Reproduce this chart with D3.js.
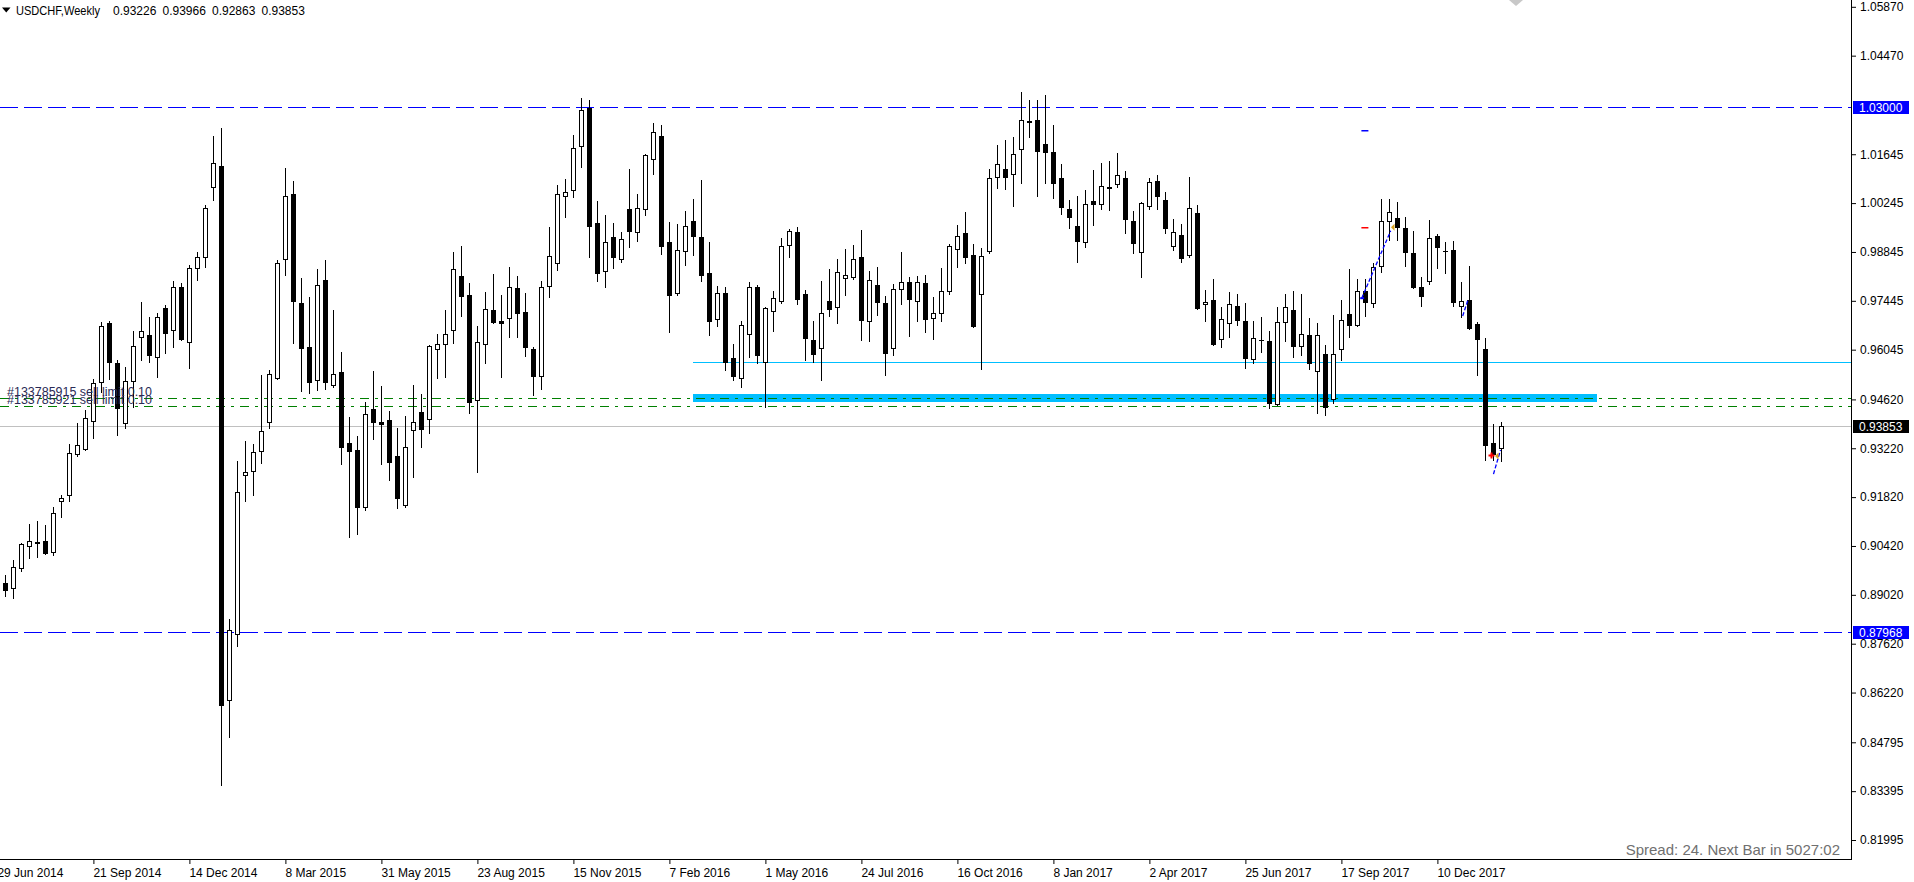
<!DOCTYPE html>
<html><head><meta charset="utf-8">
<script src="https://cdn.jsdelivr.net/npm/d3@7"></script>
<style>
body{margin:0;background:#fff;overflow:hidden}
svg{display:block}
text{font-family:"Liberation Sans",Arial,sans-serif}
</style>
</head><body>
<svg id="c" width="1914" height="882"></svg>
<script>
// ---------------- DATA ----------------
const symbolTitle = "USDCHF,Weekly";
const titleValues = ["0.93226", "0.93966", "0.92863", "0.93853"];
const firstBarDate = "2014-06-29";

const opens = [
0.8905,0.8935,0.8923,0.8978,0.9042,0.9051,0.9055,0.9026,0.9171,0.9188,
0.9306,0.9319,0.9400,0.9513,0.9680,0.9566,0.9395,0.9515,0.9640,0.9647,
0.9583,0.9723,0.9661,0.9783,0.9626,0.9838,0.9869,1.0072,1.0131,0.8602,
0.8791,0.9244,0.9257,0.9314,0.9397,0.9523,0.9865,1.0051,0.9738,0.9613,
0.9518,0.9804,0.9504,0.9540,0.9336,0.9317,0.9153,0.9435,0.9397,0.9403,
0.9300,0.9158,0.9373,0.9427,0.9405,0.9606,0.9620,0.9661,0.9816,0.9761,
0.9461,0.9620,0.9718,0.9687,0.9695,0.9781,0.9712,0.9607,0.9530,0.9788,
0.9852,1.0045,1.0062,1.0189,1.0297,0.9967,0.9831,0.9927,0.9864,1.0007,
0.9943,1.0007,1.0150,1.0217,0.9912,0.9766,0.9888,0.9973,0.9927,0.9823,
0.9692,0.9766,0.9580,0.9523,0.9649,0.9785,0.9570,0.9714,0.9745,0.9905,
0.9941,0.9764,0.9632,0.9609,0.9744,0.9728,0.9811,0.9814,0.9869,0.9688,
0.9790,0.9738,0.9609,0.9778,0.9799,0.9745,0.9796,0.9695,0.9711,0.9774,
0.9894,0.9938,0.9876,0.9763,0.9886,1.0099,1.0121,1.0107,1.0179,1.0259,
1.0263,1.0194,1.0171,1.0096,1.0008,0.9959,0.9914,1.0031,1.0021,1.0071,
1.0079,1.0096,0.9973,0.9884,1.0017,1.0088,1.0034,0.9902,0.9933,0.9876,
0.9995,0.9735,0.9747,0.9634,0.9680,0.9730,0.9687,0.9578,0.9633,0.9630,
0.9448,0.9685,0.9718,0.9616,0.9647,0.9542,0.9592,0.9462,0.9606,0.9707,
0.9675,0.9773,0.9738,0.9845,0.9972,0.9981,0.9952,0.9881,0.9783,0.9800,
0.9929,0.9888,0.9890,0.9731,0.9747,0.9678,0.9607,0.9337,0.93226];

const highs = [
0.8960,0.8959,0.9002,0.9050,0.9105,0.9114,0.9102,0.9153,0.9188,0.9334,
0.9394,0.9432,0.9520,0.9685,0.9688,0.9575,0.9556,0.9659,0.9742,0.9699,
0.9709,0.9733,0.9800,0.9795,0.9847,0.9884,1.0019,1.0217,1.0239,0.8833,
0.9286,0.9343,0.9334,0.9532,0.9547,0.9862,1.0124,1.0089,0.9809,0.9755,
0.9835,0.9862,0.9718,0.9597,0.9411,0.9357,0.9454,0.9544,0.9501,0.9429,
0.9381,0.9415,0.9504,0.9477,0.9618,0.9650,0.9718,0.9884,0.9902,0.9795,
0.9671,0.9771,0.9822,0.9761,0.9841,0.9816,0.9766,0.9613,0.9800,0.9957,
1.0077,1.0094,1.0220,1.0325,1.0320,1.0031,0.9991,0.9967,0.9943,1.0121,
1.0050,1.0165,1.0255,1.0249,0.9970,0.9966,1.0002,1.0036,1.0091,0.9912,
0.9787,0.9783,0.9621,0.9688,0.9797,0.9790,0.9726,0.9773,0.9924,0.9950,
0.9955,0.9776,0.9688,0.9802,0.9835,0.9864,0.9892,0.9905,0.9948,0.9830,
0.9841,0.9759,0.9793,0.9884,0.9812,0.9816,0.9818,0.9755,0.9838,0.9908,
0.9962,0.9999,0.9907,0.9895,1.0121,1.0191,1.0206,1.0215,1.0342,1.0320,
1.0320,1.0334,1.0249,1.0137,1.0032,1.0045,1.0062,1.0118,1.0139,1.0145,
1.0167,1.0117,1.0002,1.0029,1.0096,1.0105,1.0055,0.9978,0.9965,1.0099,
1.0019,0.9776,0.9806,0.9726,0.9771,0.9764,0.9739,0.9688,0.9697,0.9659,
0.9726,0.9764,0.9774,0.9764,0.9694,0.9682,0.9618,0.9704,0.9747,0.9835,
0.9806,0.9807,0.9854,1.0036,1.0036,1.0027,0.9986,0.9945,0.9814,0.9976,
0.9936,0.9914,0.9916,0.9797,0.9845,0.9683,0.9637,0.9392,0.93966];

const lows = [
0.8890,0.8900,0.8894,0.8969,0.9008,0.9009,0.9019,0.9016,0.9124,0.9172,
0.9301,0.9317,0.9351,0.9484,0.9520,0.9360,0.9379,0.9439,0.9575,0.9570,
0.9527,0.9594,0.9613,0.9632,0.9551,0.9804,0.9841,1.0032,0.8357,0.8496,
0.8756,0.9172,0.9188,0.9279,0.9381,0.9521,0.9819,0.9623,0.9487,0.9480,
0.9489,0.9491,0.9497,0.9277,0.9069,0.9076,0.9145,0.9348,0.9276,0.9231,
0.9150,0.9155,0.9241,0.9327,0.9365,0.9523,0.9527,0.9623,0.9701,0.9422,
0.9255,0.9567,0.9680,0.9525,0.9640,0.9642,0.9587,0.9475,0.9491,0.9755,
0.9833,0.9986,1.0041,1.0127,0.9871,0.9800,0.9783,0.9838,0.9857,0.9900,
0.9915,0.9991,1.0108,0.9879,0.9656,0.9761,0.9847,0.9876,0.9800,0.9647,
0.9673,0.9547,0.9518,0.9497,0.9583,0.9566,0.9441,0.9659,0.9739,0.9869,
0.9735,0.9575,0.9568,0.9518,0.9701,0.9682,0.9761,0.9806,0.9632,0.9630,
0.9704,0.9532,0.9590,0.9736,0.9644,0.9688,0.9656,0.9635,0.9688,0.9763,
0.9841,0.9854,0.9670,0.9548,0.9881,1.0067,1.0065,1.0017,1.0081,1.0215,
1.0046,1.0083,1.0038,0.9994,0.9954,0.9857,0.9900,0.9962,1.0008,1.0005,
1.0070,0.9940,0.9881,0.9812,1.0007,1.0007,0.9938,0.9890,0.9857,0.9869,
0.9720,0.9688,0.9618,0.9611,0.9640,0.9674,0.9551,0.9567,0.9599,0.9437,
0.9446,0.9628,0.9583,0.9588,0.9548,0.9424,0.9418,0.9451,0.9575,0.9640,
0.9673,0.9702,0.9728,0.9828,0.9919,0.9919,0.9843,0.9781,0.9730,0.9792,
0.9838,0.9825,0.9731,0.9699,0.9663,0.9532,0.9287,0.9287,0.92863];

const closes = [
0.8943,0.8916,0.8981,0.9048,0.9055,0.9052,0.9023,0.9136,0.9179,0.9308,
0.9330,0.9408,0.9510,0.9671,0.9568,0.9437,0.9516,0.9616,0.9659,0.9588,
0.9697,0.9652,0.9783,0.9634,0.9838,0.9871,1.0010,1.0139,0.8585,0.8801,
0.9198,0.9255,0.9310,0.9372,0.9534,0.9852,1.0045,0.9744,0.9609,0.9511,
0.9790,0.9513,0.9534,0.9325,0.9314,0.9155,0.9419,0.9398,0.9391,0.9282,
0.9179,0.9325,0.9397,0.9377,0.9615,0.9620,0.9649,0.9835,0.9759,0.9456,
0.9626,0.9720,0.9685,0.9680,0.9785,0.9711,0.9611,0.9530,0.9783,0.9873,
1.0050,1.0056,1.0182,1.0291,0.9960,0.9823,0.9914,0.9869,0.9921,0.9945,
1.0010,1.0162,1.0229,0.9903,0.9761,0.9890,0.9960,0.9929,0.9819,0.9688,
0.9766,0.9570,0.9530,0.9674,0.9783,0.9590,0.9723,0.9752,0.9902,0.9945,
0.9750,0.9639,0.9592,0.9709,0.9721,0.9826,0.9818,0.9864,0.9690,0.9804,
0.9742,0.9596,0.9778,0.9799,0.9751,0.9799,0.9693,0.9709,0.9772,0.9901,
0.9930,0.9871,0.9673,0.9873,1.0096,1.0136,1.0099,1.0164,1.0262,1.0256,
1.0175,1.0172,1.0083,1.0012,0.9986,0.9917,1.0021,1.0021,1.0074,1.0067,
1.0104,0.9978,0.9909,1.0026,1.0086,1.0046,0.9954,0.9943,0.9866,1.0010,
0.9723,0.9740,0.9620,0.9692,0.9735,0.9690,0.9580,0.9637,0.9632,0.9453,
0.9683,0.9726,0.9615,0.9650,0.9566,0.9647,0.9439,0.9592,0.9690,0.9674,
0.9773,0.9742,0.9841,0.9972,1.0000,0.9957,0.9883,0.9785,0.9757,0.9924,
0.9900,0.9887,0.9742,0.9744,0.9666,0.9635,0.9332,0.9306,0.93853];

const priceTicks = [1.05870,1.04470,1.01645,1.00245,0.98845,0.97445,0.96045,0.94620,
                    0.93220,0.91820,0.90420,0.89020,0.87620,0.86220,0.84795,0.83395,0.81995];
const dateTickBars = [0,12,24,36,48,60,72,84,96,108,120,132,144,156,168,180];
const dateTickLabels = ["29 Jun 2014","21 Sep 2014","14 Dec 2014","8 Mar 2015","31 May 2015",
  "23 Aug 2015","15 Nov 2015","7 Feb 2016","1 May 2016","24 Jul 2016","16 Oct 2016",
  "8 Jan 2017","2 Apr 2017","25 Jun 2017","17 Sep 2017","10 Dec 2017"];

const blueLevels = [1.03000, 0.87968];
const bidPrice = 0.93853;
const sellLimitLevels = [0.94653, 0.94424];
const sellLimitLabels = ["#133785915 sell limit 0.10", "#133785921 sell limit 0.10"];
const zonePrices = [0.94777, 0.94585];
const zoneBars = [87, 200];
const cyanLinePrice = 0.95703;
const cyanLineStartBar = 87;
const tradeLines = [
  [[170.54, 0.9752], [174.16, 0.9945]],
  [[183.16, 0.9701], [183.79, 0.9745]],
  [[187.01, 0.9248], [187.89, 0.9317]]
];
const closeArrows = [[174.2, 0.99553], [187.2, 0.9300]];
const openMarks = [[170.6, 0.9752]];
const redCrosses = [[186.7, 0.9303]];
const blueDashes = [[171.0, 1.02333]];
const redDashes = [[171.0, 0.99553]];
const spreadText = "Spread: 24. Next Bar in 5027:02";

// ---------------- LAYOUT ----------------
const W = 1914, H = 882;
const axisX = 1851, axisY = 859;
const svg = d3.select("#c");
svg.append("rect").attr("width", W).attr("height", H).attr("fill", "#fff");

const x = d3.scaleLinear().domain([0, 188]).range([-2.6, 1501.4]);
const y = d3.scaleLinear().domain([0.81995, 1.05870]).range([840, 6.8]);
const px = i => Math.round(x(i));
const py = p => Math.round(y(p));

svg.append("clipPath").attr("id", "plotclip")
  .append("rect").attr("x", 0).attr("y", 0).attr("width", axisX).attr("height", axisY);
const plot = svg.append("g").attr("clip-path", "url(#plotclip)");

// bid line
plot.append("line").attr("x1", 0).attr("x2", axisX)
  .attr("y1", py(bidPrice) + 0.5).attr("y2", py(bidPrice) + 0.5)
  .attr("stroke", "#c0c0c0").attr("stroke-width", 1);

// blue dashed levels
plot.selectAll("line.blue").data(blueLevels).join("line")
  .attr("x1", 0).attr("x2", axisX)
  .attr("y1", d => py(d) + 0.5).attr("y2", d => py(d) + 0.5)
  .attr("stroke", "#0000ff").attr("stroke-width", 1).attr("stroke-dasharray", "18,6");

// cyan zone and line
plot.append("rect")
  .attr("x", px(zoneBars[0])).attr("width", px(zoneBars[1]) - px(zoneBars[0]))
  .attr("y", py(zonePrices[0])).attr("height", py(zonePrices[1]) - py(zonePrices[0]) + 1)
  .attr("fill", "#00bfff");
plot.append("line").attr("x1", px(cyanLineStartBar)).attr("x2", axisX)
  .attr("y1", py(cyanLinePrice) + 0.5).attr("y2", py(cyanLinePrice) + 0.5)
  .attr("stroke", "#00bfff").attr("stroke-width", 1);

// green sell limit lines
plot.selectAll("line.green").data(sellLimitLevels).join("line")
  .attr("x1", 0).attr("x2", axisX)
  .attr("y1", d => py(d) + 0.5).attr("y2", d => py(d) + 0.5)
  .attr("stroke", "#008000").attr("stroke-width", 1).attr("stroke-dasharray", "9,6,3,6");

// candles
const bars = d3.range(opens.length).map(i => ({i, o: opens[i], h: highs[i], l: lows[i], c: closes[i]}));
const cg = plot.append("g");
cg.selectAll("line.wick").data(bars).join("line")
  .attr("x1", d => px(d.i) + 0.5).attr("x2", d => px(d.i) + 0.5)
  .attr("y1", d => py(d.h)).attr("y2", d => py(d.l) + 1)
  .attr("stroke", "#000").attr("stroke-width", 1);
cg.selectAll("rect.body").data(bars).join("rect")
  .each(function(d) {
    const top = py(Math.max(d.o, d.c)), bot = py(Math.min(d.o, d.c));
    const xc = px(d.i);
    const s = d3.select(this);
    if (d.c > d.o) {
      s.attr("x", xc - 1.5).attr("y", top + 0.5).attr("width", 4)
       .attr("height", Math.max(bot - top, 1)).attr("fill", "#fff").attr("stroke", "#000").attr("stroke-width", 1);
    } else {
      s.attr("x", xc - 2).attr("y", top).attr("width", 5)
       .attr("height", Math.max(bot - top + 1, 1)).attr("fill", "#000");
    }
  });

// trade annotations
const lineGen = d3.line().x(d => x(d[0])).y(d => y(d[1]));
plot.selectAll("path.trade").data(tradeLines).join("path")
  .attr("d", lineGen).attr("fill", "none").attr("stroke", "#0000ff")
  .attr("stroke-width", 1.3).attr("stroke-dasharray", "4,2");
plot.selectAll("path.close").data(closeArrows).join("path")
  .attr("d", d => { const X = x(d[0]), Y = y(d[1]); return `M${X},${Y}L${X+3.5},${Y-3.5}L${X+3.5},${Y+3.5}Z`; })
  .attr("fill", "#daa520");
plot.selectAll("rect.open").data(openMarks).join("rect")
  .attr("x", d => x(d[0]) - 2).attr("y", d => y(d[1]) - 1).attr("width", 4).attr("height", 2)
  .attr("fill", "#0000ff");
plot.selectAll("path.cross").data(redCrosses).join("path")
  .attr("d", d => { const X = Math.round(x(d[0])) + 0.5, Y = Math.round(y(d[1])) + 0.5; return `M${X-3},${Y}H${X+3}M${X},${Y-3}V${Y+3}`; })
  .attr("stroke", "#ff0000").attr("stroke-width", 2);
plot.selectAll("rect.bdash").data(blueDashes).join("rect")
  .attr("x", d => x(d[0]) - 4).attr("y", d => py(d[1])).attr("width", 7).attr("height", 1.5).attr("fill", "#0000ff");
plot.selectAll("rect.rdash").data(redDashes).join("rect")
  .attr("x", d => x(d[0]) - 4).attr("y", d => py(d[1])).attr("width", 7).attr("height", 1.5).attr("fill", "#ff0000");

// order labels
plot.selectAll("text.ord").data(sellLimitLevels).join("text")
  .attr("x", 7).attr("y", d => py(d) - 2)
  .attr("font-size", 12).attr("fill", "#2a2a55")
  .attr("textLength", 145).attr("lengthAdjust", "spacingAndGlyphs")
  .text((d, i) => sellLimitLabels[i]);

// ---------------- AXES ----------------
svg.append("line").attr("x1", axisX + 0.5).attr("x2", axisX + 0.5).attr("y1", 0).attr("y2", axisY + 1)
  .attr("stroke", "#000");
svg.append("line").attr("x1", 0).attr("x2", axisX + 1).attr("y1", axisY + 0.5).attr("y2", axisY + 0.5)
  .attr("stroke", "#000");

const yAxis = d3.axisRight(y).tickValues(priceTicks).tickSize(4).tickPadding(4)
  .tickFormat(d3.format(".5f"));
const ya = svg.append("g").attr("transform", `translate(${axisX + 1},0)`).call(yAxis);
ya.select(".domain").remove();
ya.selectAll("text").attr("font-family", '"Liberation Sans",Arial,sans-serif').attr("font-size", 12).attr("fill", "#000");
ya.selectAll("line").attr("stroke", "#000");

const xAxis = d3.axisBottom(x).tickValues(dateTickBars).tickSize(4).tickPadding(4)
  .tickFormat((d, i) => dateTickLabels[i]);
const xa = svg.append("g").attr("transform", `translate(0,${axisY + 1})`).call(xAxis);
xa.select(".domain").remove();
xa.selectAll("text").attr("text-anchor", "start").attr("x", -0.5)
  .attr("font-family", '"Liberation Sans",Arial,sans-serif').attr("font-size", 12).attr("fill", "#000");
xa.selectAll("line").attr("stroke", "#000");

// price label boxes
function priceBox(p, fill) {
  const yy = py(p);
  svg.append("rect").attr("x", 1853).attr("y", yy - 6).attr("width", 56).attr("height", 13).attr("fill", fill);
  svg.append("text").attr("x", 1859).attr("y", yy + 0.5).attr("dy", "0.35em")
    .attr("font-size", 12).attr("fill", "#fff").text(d3.format(".5f")(p));
}
blueLevels.forEach(p => priceBox(p, "#0000ff"));
priceBox(bidPrice, "#000");

// title
svg.append("path").attr("d", "M2,7.5L10.5,7.5L6.25,12.5Z").attr("fill", "#000");
svg.append("text").attr("x", 16).attr("y", 15).attr("font-size", 12)
  .attr("textLength", 84).attr("lengthAdjust", "spacingAndGlyphs").text(symbolTitle);
svg.selectAll("text.tv").data(titleValues).join("text")
  .attr("x", (d, i) => 113 + i * 49.5).attr("y", 15).attr("font-size", 12).text(d => d);

// chart shift marker
svg.append("path").attr("d", "M1509,0L1523,0L1516,6Z").attr("fill", "#c8c8c8");

// spread text
svg.append("text").attr("x", 1840).attr("y", 855).attr("text-anchor", "end")
  .attr("font-family", '"Liberation Mono","DejaVu Sans Mono",monospace').attr("font-size", 15)
  .attr("fill", "#707070").text(spreadText);
</script>
</body></html>
